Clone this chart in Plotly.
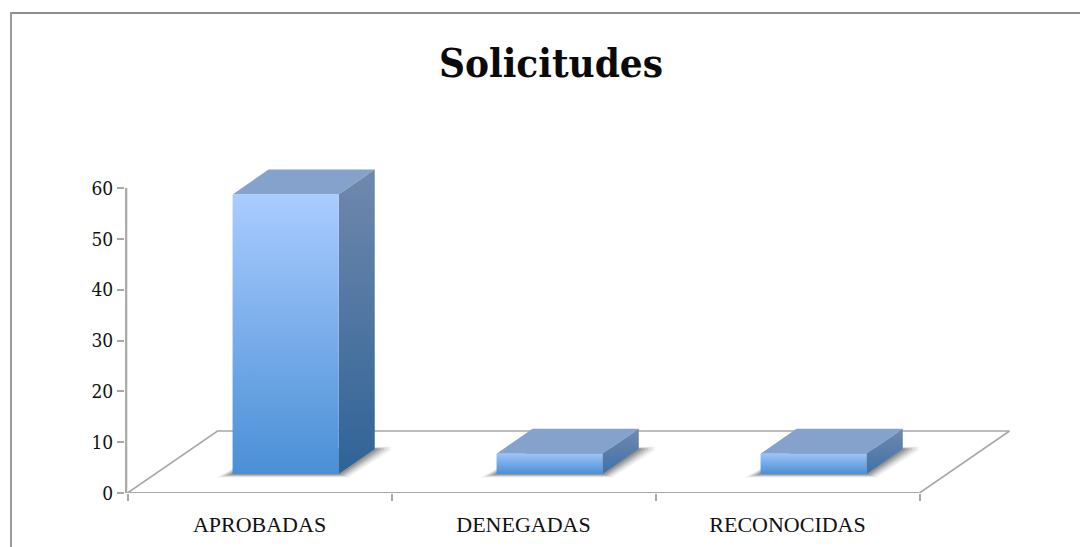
import plotly.graph_objects as go

categories = ["APROBADAS", "DENEGADAS", "RECONOCIDAS"]
values = [55, 4, 4]
y_ticks = [0, 10, 20, 30, 40, 50, 60]
title_text = "Solicitudes"

# 3D look, in axis units
BAR_W = 0.402
BAR_SHIFT = 0.398 - 0.299
BASE_Y = 3.74
DEPTH_X, DEPTH_Y = 0.1365, 4.92
FLOOR_DX, FLOOR_DY = 0.341, 12.2
N = len(categories)

GRID = "#a8a8a8"
SERIF = "Liberation Serif"
SERIF_WIDE = "DejaVu Serif Condensed, DejaVu Serif"

fig = go.Figure()


def poly(xs, ys, color=None, gradient=None, clip=True):
    kw = dict(fillgradient=gradient) if gradient else dict(fillcolor=color)
    fig.add_trace(go.Scatter(
        x=xs, y=ys, mode="lines", fill="toself", line=dict(width=0, color="rgba(0,0,0,0)"),
        hoverinfo="skip", showlegend=False, cliponaxis=clip, **kw))


def line(xs, ys, width=2, color=GRID):
    fig.add_trace(go.Scatter(
        x=xs, y=ys, mode="lines", line=dict(width=width, color=color),
        hoverinfo="skip", showlegend=False, cliponaxis=False))


def vgrad(top, bottom):
    return dict(type="vertical", colorscale=[[0, bottom], [1, top]])


# floor
line([0, FLOOR_DX, N + FLOOR_DX, N], [0, FLOOR_DY, FLOOR_DY, 0], width=1.6)
line([0, N], [0, 0], width=2.2)
# value axis line
line([-0.005, -0.005], [0, y_ticks[-1]], width=2.2)

for i, v in enumerate(values):
    x0 = i + 0.5 - BAR_W / 2 + BAR_SHIFT
    x1 = x0 + BAR_W
    # soft shadow on the floor: stacked translucent footprints
    for grow, alpha in [(1.0, 0.07), (0.8, 0.10), (0.6, 0.14), (0.4, 0.18), (0.2, 0.22)]:
        gx = 0.06 * grow
        gy = 0.7 * grow
        poly([x0 - gx, x1 + gx * 0.6, x1 + DEPTH_X + gx, x1 + DEPTH_X + gx, x0 + DEPTH_X],
             [BASE_Y - gy, BASE_Y - gy, BASE_Y + DEPTH_Y - gy * 0.4, BASE_Y + DEPTH_Y + gy * 0.6, BASE_Y + DEPTH_Y],
             color=f"rgba(60,60,60,{alpha})")
    big = v > 20
    # top face
    poly([x0, x1, x1 + DEPTH_X, x0 + DEPTH_X],
         [BASE_Y + v, BASE_Y + v, BASE_Y + v + DEPTH_Y, BASE_Y + v + DEPTH_Y],
         color="#84a2cb", clip=False)
    # side face
    poly([x1, x1 + DEPTH_X, x1 + DEPTH_X, x1],
         [BASE_Y, BASE_Y + DEPTH_Y, BASE_Y + v + DEPTH_Y, BASE_Y + v],
         gradient=vgrad("#7088ad", "#2f6396" if big else "#3f72aa"), clip=False)
    # front face
    poly([x0, x1, x1, x0], [BASE_Y, BASE_Y, BASE_Y + v, BASE_Y + v],
         gradient=vgrad("#a9ccff" if big else "#9cc4f8", "#4a8fd6"), clip=False)

PX_X = 264.0
PX_Y = 5.083
L, R, T, B = 125, 70, 167, 54
X_START = -2.5 / PX_X
fig.update_layout(
    width=1080, height=547,
    autosize=False,
    margin=dict(l=L, r=R, t=T, b=B, pad=0),
    paper_bgcolor="white", plot_bgcolor="white",
    showlegend=False,
    title=dict(text=f"<b>{title_text}</b>", x=551 / 1080, xanchor="center",
               y=1 - 63 / 547, yanchor="middle",
               font=dict(family=SERIF_WIDE, size=40, color="#0a0a0a")),
    xaxis=dict(
        range=[X_START, X_START + (1080 - L - R) / PX_X], showgrid=False, zeroline=False, showline=False,
        automargin=False,
        tickmode="array", tickvals=[i + 0.5 for i in range(N)], ticktext=categories,
        ticks="", tickfont=dict(family=SERIF, size=22, color="#111111"), ticklabelstandoff=16,
        minor=dict(tickmode="array", tickvals=list(range(N + 1)), ticks="outside",
                   ticklen=7, tickwidth=2, tickcolor=GRID, showgrid=False),
        fixedrange=True,
    ),
    yaxis=dict(
        range=[0, (547 - T - B) / PX_Y], showgrid=False, zeroline=False, showline=False,
        automargin=False,
        tickmode="array", tickvals=y_ticks, ticks="outside", ticklen=7, tickwidth=2,
        tickcolor=GRID, tickfont=dict(family=SERIF_WIDE, size=19, color="#111111"),
        ticklabelstandoff=0, fixedrange=True,
    ),
    shapes=[
        dict(type="line", xref="paper", yref="paper", x0=-114 / 885, x1=1.1,
             y0=1 + 154 / 326, y1=1 + 154 / 326, line=dict(color="#8f8f8f", width=2)),
        dict(type="line", xref="paper", yref="paper", x0=-114 / 885, x1=-114 / 885,
             y0=-1, y1=1 + 155 / 326, line=dict(color="#9a9a9a", width=2)),
    ],
)

fig.write_html("out.html", config={"displayModeBar": False},
               post_script="document.body.style.margin='0';")
